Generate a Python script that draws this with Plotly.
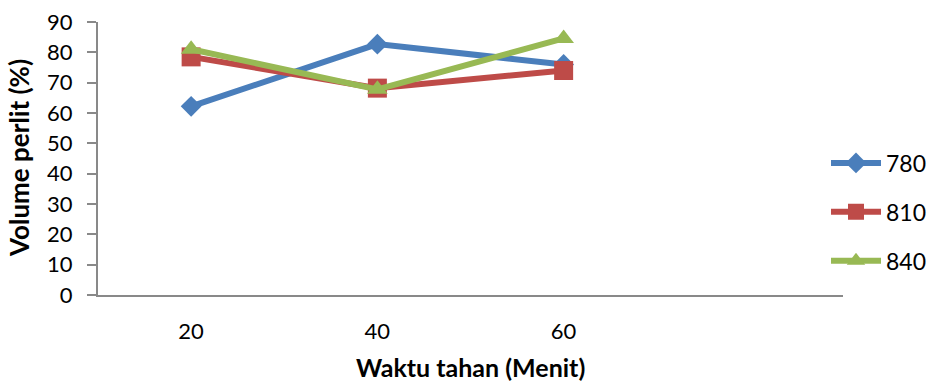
import plotly.graph_objects as go

categories = ["20", "40", "60"]
series_names = ["780", "810", "840"]
v780 = [62.2, 82.7, 76.0]
v810 = [78.5, 68.2, 74.0]
v840 = [81.0, 67.8, 84.6]
y_ticks = [0, 10, 20, 30, 40, 50, 60, 70, 80, 90]

colors = ["#4A7EBB", "#BE4B48", "#98B954"]
symbols = ["diamond", "square", "triangle-up"]
sizes = [16, 19, 18]
values = [v780, v810, v840]

FONT = "Lato, Open Sans, sans-serif"

fig = go.Figure()
for name, vals, c, s, sz in zip(series_names, values, colors, symbols, sizes):
    fig.add_trace(go.Scatter(
        x=categories, y=vals, name=name, mode="lines+markers",
        line=dict(color=c, width=6),
        marker=dict(symbol=s, size=sz, color=c),
        legendgroup=name,
    ))

L, R, T, B = 98, 88, 22, 88
W, H = 931, 383
pw, ph = W - L - R, H - T - B

fig.update_layout(
    width=W, height=H,
    margin=dict(l=L, r=R, t=T, b=B, autoexpand=False),
    paper_bgcolor="white", plot_bgcolor="white",
    font=dict(family=FONT, size=22, color="black"),
    showlegend=True,
    legend=dict(x=(826 - L) / pw, xanchor="left", y=(295 - 212) / ph, yanchor="middle",
                font=dict(size=23), tracegroupgap=16, itemwidth=50,
                bgcolor="rgba(0,0,0,0)"),
    xaxis=dict(
        type="category", categoryorder="array", categoryarray=categories,
        range=[-0.5, 3.5], showgrid=False, zeroline=False, automargin=False,
        showline=True, linecolor="#898989", linewidth=2,
        ticks="", ticklabelstandoff=16,
        tickfont=dict(size=22),
    ),
    yaxis=dict(
        range=[0, 90], tickvals=y_ticks, showgrid=False, zeroline=False, automargin=False,
        showline=True, linecolor="#898989", linewidth=2,
        ticks="outside", ticklen=9, tickcolor="#898989", tickwidth=2,
        ticklabelstandoff=10,
        tickfont=dict(size=22),
    ),
    annotations=[
        dict(text="<b>Waktu tahan (Menit)</b>", xref="paper", yref="paper",
             x=(470 - L) / pw, y=(295 - 367) / ph, xanchor="center", yanchor="middle",
             showarrow=False, font=dict(size=25)),
        dict(text="<b>Volume perlit (%)</b>", textangle=-90, xref="paper", yref="paper",
             x=(19 - L) / pw, y=(295 - 158) / ph, xanchor="center", yanchor="middle",
             showarrow=False, font=dict(size=26)),
    ],
)

fig.write_html("out.html")
